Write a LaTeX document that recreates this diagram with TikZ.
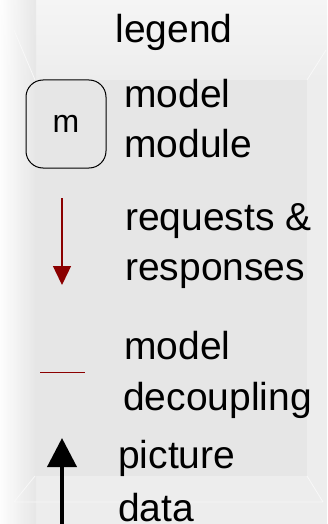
\documentclass[tikz,border=0pt]{standalone}
\usepackage{fontspec}
\setmainfont{Liberation Sans}
\usepackage{xcolor}
\usetikzlibrary{arrows.meta}
\definecolor{bgmain}{HTML}{E6E6E6}
\definecolor{bgedge}{HTML}{EDEDED}
\definecolor{bgtop}{HTML}{F5F5F5}
\definecolor{reqred}{HTML}{8B0000}
\begin{document}
\begin{tikzpicture}[x=1pt, y=-1pt,
        legtext/.style = {anchor=base west, align=left, inner sep=0pt,
            font=\fontsize{39}{50}\selectfont},
        modbox/.style = {draw, rounded corners=17pt, line width=1pt,
            minimum width=80pt, minimum height=88pt, inner sep=0pt,
            text depth=0pt, font=\fontsize{32}{32}\selectfont}
    ]
        % background with its faint bevel
        \fill[bgedge] (0,0) rectangle (327,524);
        \shade[top color=bgtop, bottom color=bgedge] (0,0) rectangle (327,80);
        \fill[bgmain] (35,80) rectangle (307,476);
        \shade[left color=white, right color=bgmain, opacity=0.9] (0,0) rectangle (36,524);
        \draw[white!70!bgmain, line width=0.8pt] (35,80) -- (14,30) (307,80) -- (326,50)
            (307,476) -- (323,502) (35,476) -- (14,502) (14,502) -- (323,502);
        \useasboundingbox (0,0) rectangle (327,524);

        \node[anchor=base, inner sep=0pt, font=\fontsize{39}{50}\selectfont] (legendtitle) at (174,43) {legend};

        \node[modbox] (mbox) at (66,124) {m};
        \node[legtext] (mtext) at (124,157) {model\\module};

        \coordinate (reqtop) at (62,198);
        \coordinate (reqbot) at (62,285);
        \draw[reqred, line width=1.4pt, -{Triangle[width=18pt,length=19pt]}] (reqtop) -- (reqbot);
        \node[legtext] (reqtext) at (125,280) {requests \&\\responses};

        \node[legtext] (dectop) at (124,359) {model};
        \node[legtext] (dectext) at (123,410) {decoupling};
        \coordinate (decleft) at (40,372);
        \coordinate (decright) at (85,372);
        \draw[reqred, line width=1pt] (decleft) -- (decright);

        \coordinate (picbot) at (62,530);
        \coordinate (pictop) at (62,438);
        \draw[line width=4pt, -{Triangle[width=29pt,length=29pt]}] (picbot) -- (pictop);
        \node[legtext, font=\fontsize{39}{53}\selectfont] (pictext) at (118,521) {picture\\data};
    \end{tikzpicture}
\end{document}
